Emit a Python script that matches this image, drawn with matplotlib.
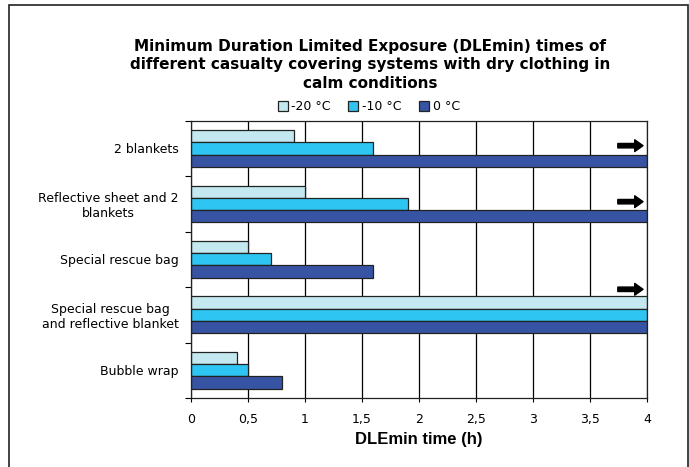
import numpy as np
import matplotlib.pyplot as plt
from matplotlib.patches import Rectangle

categories = ['2 blankets',
              'Reflective sheet and 2\nblankets',
              'Special rescue bag',
              'Special rescue bag\nand reflective blanket',
              'Bubble wrap']
series_names = ['-20 °C', '-10 °C', '0 °C']
minus20 = [0.9, 1.0, 0.5, 4.0, 0.4]
minus10 = [1.6, 1.9, 0.7, 4.0, 0.5]
zero = [4.0, 4.0, 1.6, 4.0, 0.8]
colors = ['#C4E8F0', '#2EC5F3', '#3754A4']

# groups whose 0 degC value runs past the axis, and where the arrow sits
arrow_groups = [0, 1, 3]
arrow_offsets = [-0.05, -0.04, -0.46]

xticks = [0, 0.5, 1, 1.5, 2, 2.5, 3, 3.5, 4]
xtick_labels = ['0', '0,5', '1', '1,5', '2', '2,5', '3', '3,5', '4']

fig = plt.figure(figsize=(6.89, 4.67), dpi=100)
ax = fig.add_axes([0.2772, 0.1478, 0.6618, 0.5937])

y = np.arange(len(categories))
h = 0.221
for k, (vals, name) in enumerate(zip([minus20, minus10, zero], series_names)):
    ax.barh(y + (k - 1) * h, vals, height=h, color=colors[k],
            edgecolor='#222222', linewidth=0.9, label=name, zorder=3)

ax.set_xlim(0, 4)
ax.set_ylim(len(categories) - 0.5, -0.5)

ax.set_xticks(xticks)
ax.set_xticklabels(xtick_labels, fontsize=9)
ax.tick_params(axis='x', length=3, width=0.8, pad=8, colors='black')
ax.grid(axis='x', color='black', linewidth=0.9, zorder=0)

ax.set_yticks(np.arange(len(categories) + 1) - 0.5)
ax.set_yticklabels([])
ax.set_yticks(y, minor=True)
ax.set_yticklabels(categories, minor=True, fontsize=9, multialignment='center')
ax.tick_params(axis='y', which='major', length=4, width=0.8)
ax.tick_params(axis='y', which='minor', length=0, pad=9)

for s in ax.spines.values():
    s.set_linewidth(0.9)
    s.set_color('#222222')
    s.set_zorder(4)

for g, off in zip(arrow_groups, arrow_offsets):
    ax.annotate('', xy=(3.99, g + off), xytext=(3.72, g + off),
                arrowprops=dict(arrowstyle='simple,head_length=0.6,head_width=0.85,tail_width=0.32',
                                color='black'), zorder=5)

ax.set_xlabel('DLEmin time (h)', fontsize=12, fontweight='bold',
              family='Liberation Sans', labelpad=4)

fig.text(0.537, 0.861,
         'Minimum Duration Limited Exposure (DLEmin) times of\n'
         'different casualty covering systems with dry clothing in\n'
         'calm conditions',
         ha='center', va='center', fontsize=11, fontweight='bold',
         linespacing=1.3)

ax.legend(loc='lower center', bbox_to_anchor=(0.39, 1.0), ncol=3, frameon=False,
          fontsize=9, handlelength=0.8, handleheight=0.8, handletextpad=0.3,
          columnspacing=1.4, borderaxespad=0.2)

fig.patches.append(Rectangle((0.013, -0.02), 0.9855, 1.009, transform=fig.transFigure,
                             fill=False, edgecolor='#222222', linewidth=1.2))

fig.savefig('out.png', dpi=100)
